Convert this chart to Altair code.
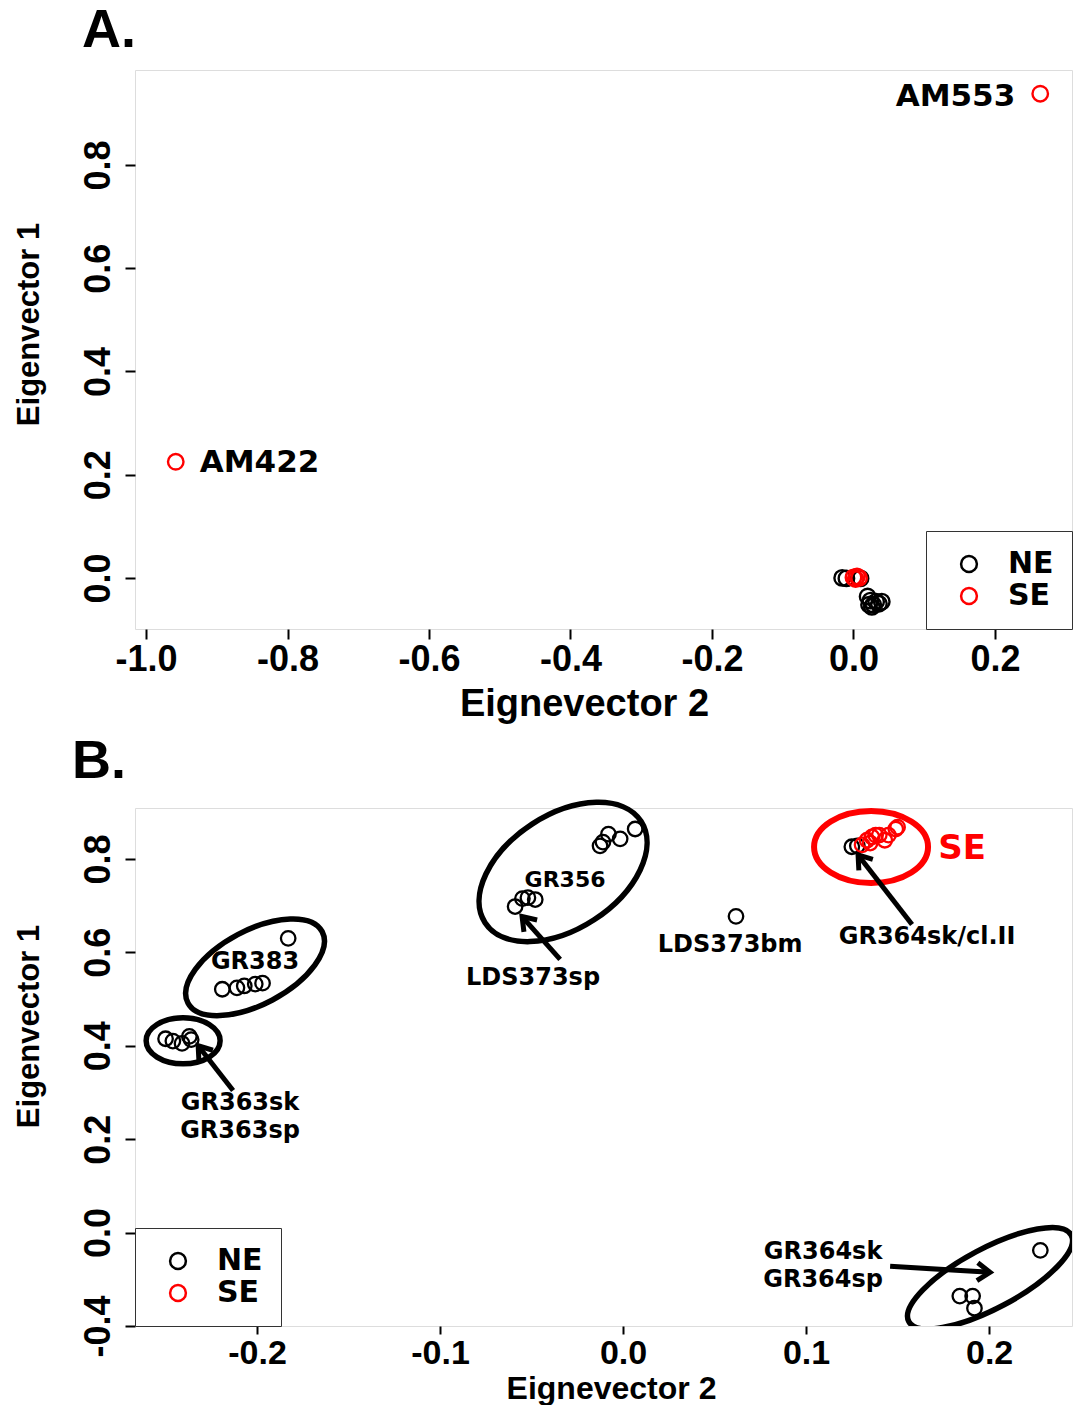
import altair as alt
import pandas as pd

# ---------------- Panel A data ----------------
a_ne_x = [-0.016, -0.010, 0.010, 0.020, 0.024, 0.028, 0.032, 0.036, 0.040, 0.026, 0.022]
a_ne_y = [0.000, -0.001, -0.001, -0.036, -0.044, -0.052, -0.046, -0.050, -0.046, -0.056, -0.052]
a_se_x = [0.264, -0.958, 0.000, 0.005, 0.008, 0.003]
a_se_y = [0.938, 0.225, 0.001, 0.003, 0.000, -0.002]
a_lab_names = ["AM553", "AM422"]
a_lab_x = [0.264, -0.958]
a_lab_y = [0.938, 0.225]

# ---------------- Panel B data ----------------
b_ne_x = [-0.250, -0.246, -0.241, -0.237, -0.236,
          -0.219, -0.211, -0.207, -0.201, -0.197, -0.183,
          -0.059, -0.055, -0.052, -0.048, -0.0126, -0.011, -0.008, -0.0016, 0.0066,
          0.0617,
          0.125, 0.128,
          0.184, 0.191, 0.192, 0.228]
b_ne_y = [0.415, 0.410, 0.405, 0.420, 0.413,
          0.521, 0.524, 0.528, 0.532, 0.534, 0.630,
          0.698, 0.715, 0.717, 0.713, 0.828, 0.836, 0.853, 0.843, 0.864,
          0.677,
          0.826, 0.828,
          -0.136, -0.136, -0.162, -0.038]
b_se_x = [0.1306, 0.1333, 0.135, 0.136, 0.138, 0.140, 0.143, 0.145, 0.149, 0.150]
b_se_y = [0.830, 0.840, 0.834, 0.847, 0.851, 0.851, 0.840, 0.851, 0.864, 0.868]

b_lab_names = ["GR383", "GR356", "LDS373bm", "LDS373sp", "GR364sk/cl.II",
               "GR363sk", "GR363sp", "GR364sk", "GR364sp"]
b_lab_x = [-0.2011, -0.0317, 0.0585, -0.0492, 0.1661, -0.2093, -0.2093, 0.1093, 0.1093]
b_lab_y = [0.5787, 0.7553, 0.6149, 0.5447, 0.6319, 0.2766, 0.2170, -0.0426, -0.1021]
b_lab_fs = [24, 22, 24, 24, 24, 24, 24, 24, 24]

# ellipses (centre in data units, semi-axes in px, tilt in degrees counter-clockwise)
ell_names = ["GR363", "GR383", "GR356", "GR364"]
ell_cx = [-0.2404, -0.2011, -0.0328, 0.2005]
ell_cy = [0.4106, 0.568, 0.772, -0.0979]
ell_a = [37, 76, 93, 92]
ell_b = [23, 37, 57, 30]
ell_tilt = [0, 28, 33, 28]
se_ell = dict(cx=0.1355, cy=0.8255, a=57, b=36)

# arrows: tail -> tip, direction angle (clockwise, screen)
arr_x = [-0.2131, -0.0344, 0.1579, 0.1459]
arr_y = [0.3043, 0.5851, 0.6596, -0.0723]
arr_x2 = [-0.2322, -0.0552, 0.1284, 0.2005]
arr_y2 = [0.4000, 0.6766, 0.8085, -0.0851]
arr_ang = [232, 228, 232, 3]

FONT = "Liberation Sans"
LABFONT = "DejaVu Sans"
colscale = alt.Scale(domain=["NE", "SE"], range=["#000000", "#ff0000"])
HYPHEN = "(datum.value < 0 ? '-' + format(-datum.value, '.1f') : format(datum.value, '.1f'))"


def pts_df(nx, ny, sx, sy):
    rows = [{"x": a, "y": b, "grp": "NE"} for a, b in zip(nx, ny)]
    rows += [{"x": a, "y": b, "grp": "SE"} for a, b in zip(sx, sy)]
    return pd.DataFrame(rows)


def xaxis(values, titleX, tsize, lpad, lfs, tpad, tfs):
    return alt.Axis(values=values, labelExpr=HYPHEN, domain=False, grid=False,
                    tickSize=tsize, tickWidth=2, tickColor="black",
                    labelFont=FONT, labelFontWeight="bold", labelFontSize=lfs,
                    labelColor="black", labelPadding=lpad, labelFlush=False,
                    labelOverlap=False,
                    title="Eignevector 2", titleFont=FONT, titleFontWeight="bold",
                    titleFontSize=tfs, titleColor="black", titlePadding=tpad,
                    titleX=titleX)


def yaxis(values, titleY, expr=HYPHEN):
    return alt.Axis(values=values, labelExpr=expr, domain=False, grid=False,
                    tickSize=10, tickWidth=2, tickColor="black",
                    labelFont=FONT, labelFontWeight="bold", labelFontSize=36,
                    labelColor="black", labelPadding=8, labelAngle=270,
                    labelAlign="center", labelBaseline="bottom", labelFlush=False,
                    labelOverlap=False,
                    title="Eigenvector 1", titleFont=FONT, titleFontWeight="bold",
                    titleFontSize=31, titleColor="black", titlePadding=35,
                    titleY=titleY)


def legend(orient):
    return alt.Legend(title=None, orient=orient, offset=0, strokeColor="#333333",
                      fillColor="white", padding=18, symbolOffset=10,
                      labelOffset=24, labelFont=LABFONT, labelFontWeight="bold",
                      labelFontSize=30, labelColor="black", symbolSize=250,
                      symbolStrokeWidth=2.5, symbolType="circle", rowPadding=2)


def panel_label(txt, px, py):
    return alt.Chart(pd.DataFrame({"t": [txt]})).mark_text(
        font=FONT, fontWeight="bold", fontSize=54, align="left", baseline="alphabetic",
        color="black").encode(text="t:N", x=alt.value(px), y=alt.value(py))


# ---------------- Panel A ----------------
dfA = pts_df(a_ne_x, a_ne_y, a_se_x, a_se_y)
xA = alt.X("x:Q", scale=alt.Scale(domain=[-1.0156, 0.3089], nice=False, zero=False),
           axis=xaxis([-1.0, -0.8, -0.6, -0.4, -0.2, 0.0, 0.2], 449, 10, 3, 36, 8, 38))
yA = alt.Y("y:Q", scale=alt.Scale(domain=[-0.099, 0.984], nice=False, zero=False),
           axis=yaxis([0.0, 0.2, 0.4, 0.6, 0.8], 254))

ptsA = alt.Chart(dfA).mark_point(filled=False, size=240, strokeWidth=2.4, opacity=1).encode(
    x=xA, y=yA,
    color=alt.Color("grp:N", scale=colscale, legend=legend("bottom-right")),
)
labA = pd.DataFrame({"x": a_lab_x, "y": a_lab_y, "t": a_lab_names})
txtA1 = alt.Chart(labA.iloc[[0]]).mark_text(font=LABFONT, fontWeight="bold", fontSize=31,
                                            align="right", baseline="middle", dx=-25, dy=3,
                                            color="black").encode(x="x:Q", y="y:Q", text="t:N")
txtA2 = alt.Chart(labA.iloc[[1]]).mark_text(font=LABFONT, fontSize=31, fontWeight="bold",
                                            align="left", baseline="middle", dx=24, dy=1,
                                            color="black").encode(x="x:Q", y="y:Q", text="t:N")
chartA = alt.layer(ptsA, txtA1, txtA2, panel_label("A.", -53, -23)).properties(
    width=937, height=559)

# ---------------- Panel B ----------------
dfB = pts_df(b_ne_x, b_ne_y, b_se_x, b_se_y)
xB = alt.X("x:Q", scale=alt.Scale(domain=[-0.2667, 0.2453], nice=False, zero=False),
           axis=xaxis([-0.2, -0.1, 0.0, 0.1, 0.2], 476, 8, 2, 34, 3, 32))
yB = alt.Y("y:Q", scale=alt.Scale(domain=[-0.2, 0.909], nice=False, zero=False),
           axis=yaxis([-0.2, 0.0, 0.2, 0.4, 0.6, 0.8], 218,
                      "datum.value < -0.1 ? '-0.4' : " + HYPHEN))


def ell_path(a, b):
    r = round(b / a, 3)
    return f"M-1,0A1,{r},0,1,0,1,0A1,{r},0,1,0,-1,0Z"


ellB = pd.DataFrame({
    "x": ell_cx, "y": ell_cy,
    "shp": [ell_path(a, b) for a, b in zip(ell_a, ell_b)],
    "sz": [4 * a * a for a in ell_a],
    "ang": [(360 - t) % 360 for t in ell_tilt],
})


def ell_layer(df, clip):
    return alt.Chart(df).mark_point(filled=False, strokeWidth=5.5, color="black",
                                    opacity=1, clip=clip).encode(
        x="x:Q", y="y:Q",
        shape=alt.Shape("shp:N", scale=None),
        size=alt.Size("sz:Q", scale=None),
        angle=alt.Angle("ang:Q", scale=None),
    )


ellOpen = ell_layer(ellB.iloc[:3], False)
ellEdge = ell_layer(ellB.iloc[3:], True)   # the lower-right ellipse sits on the frame
ellR = pd.DataFrame({"x": [se_ell["cx"]], "y": [se_ell["cy"]]})
ellRed = alt.Chart(ellR).mark_point(filled=False, strokeWidth=6, color="#ff0000", opacity=1,
                                    shape=ell_path(se_ell["a"], se_ell["b"]),
                                    size=4 * se_ell["a"] ** 2).encode(x="x:Q", y="y:Q")

arrB = pd.DataFrame({"x": arr_x, "y": arr_y, "x2": arr_x2, "y2": arr_y2, "ang": arr_ang})
shafts = alt.Chart(arrB).mark_rule(strokeWidth=5, color="black").encode(
    x="x:Q", y="y:Q", x2="x2:Q", y2="y2:Q")
heads = alt.Chart(arrB).mark_point(filled=False, strokeWidth=5, color="black", opacity=1,
                                   shape="M-1,-0.7L0,0L-1,0.7", size=640,
                                   strokeJoin="miter").encode(
    x="x2:Q", y="y2:Q", angle=alt.Angle("ang:Q", scale=None))

ptsB = alt.Chart(dfB).mark_point(filled=False, size=210, strokeWidth=2.3, opacity=1).encode(
    x=xB, y=yB,
    color=alt.Color("grp:N", scale=colscale, legend=legend("bottom-left")),
)
labB = pd.DataFrame({"x": b_lab_x, "y": b_lab_y, "t": b_lab_names, "fs": b_lab_fs})
txtB = alt.Chart(labB).mark_text(font=LABFONT, fontWeight="bold", color="black",
                                 align="center", baseline="middle").encode(
    x="x:Q", y="y:Q", text="t:N", size=alt.Size("fs:Q", scale=None))
seLab = pd.DataFrame({"x": [0.1852], "y": [0.8213], "t": ["SE"]})
txtSE = alt.Chart(seLab).mark_text(font=LABFONT, fontWeight="bold", color="#ff0000",
                                   fontSize=34, align="center", baseline="middle").encode(
    x="x:Q", y="y:Q", text="t:N")

chartB = alt.layer(ptsB, ellOpen, ellEdge, ellRed, shafts, heads, txtB, txtSE,
                   panel_label("B.", -63, -30)).properties(width=937, height=518)

chart = alt.vconcat(chartA, chartB, spacing=10).resolve_scale(
    color="independent").resolve_legend(color="independent").properties(
    padding={"left": 4, "top": -5, "right": 0, "bottom": 0}).configure_view(
    stroke="#333333", strokeWidth=1.5).configure(background="white")

chart.save("out.html", embed_options={"renderer": "svg", "actions": False})
